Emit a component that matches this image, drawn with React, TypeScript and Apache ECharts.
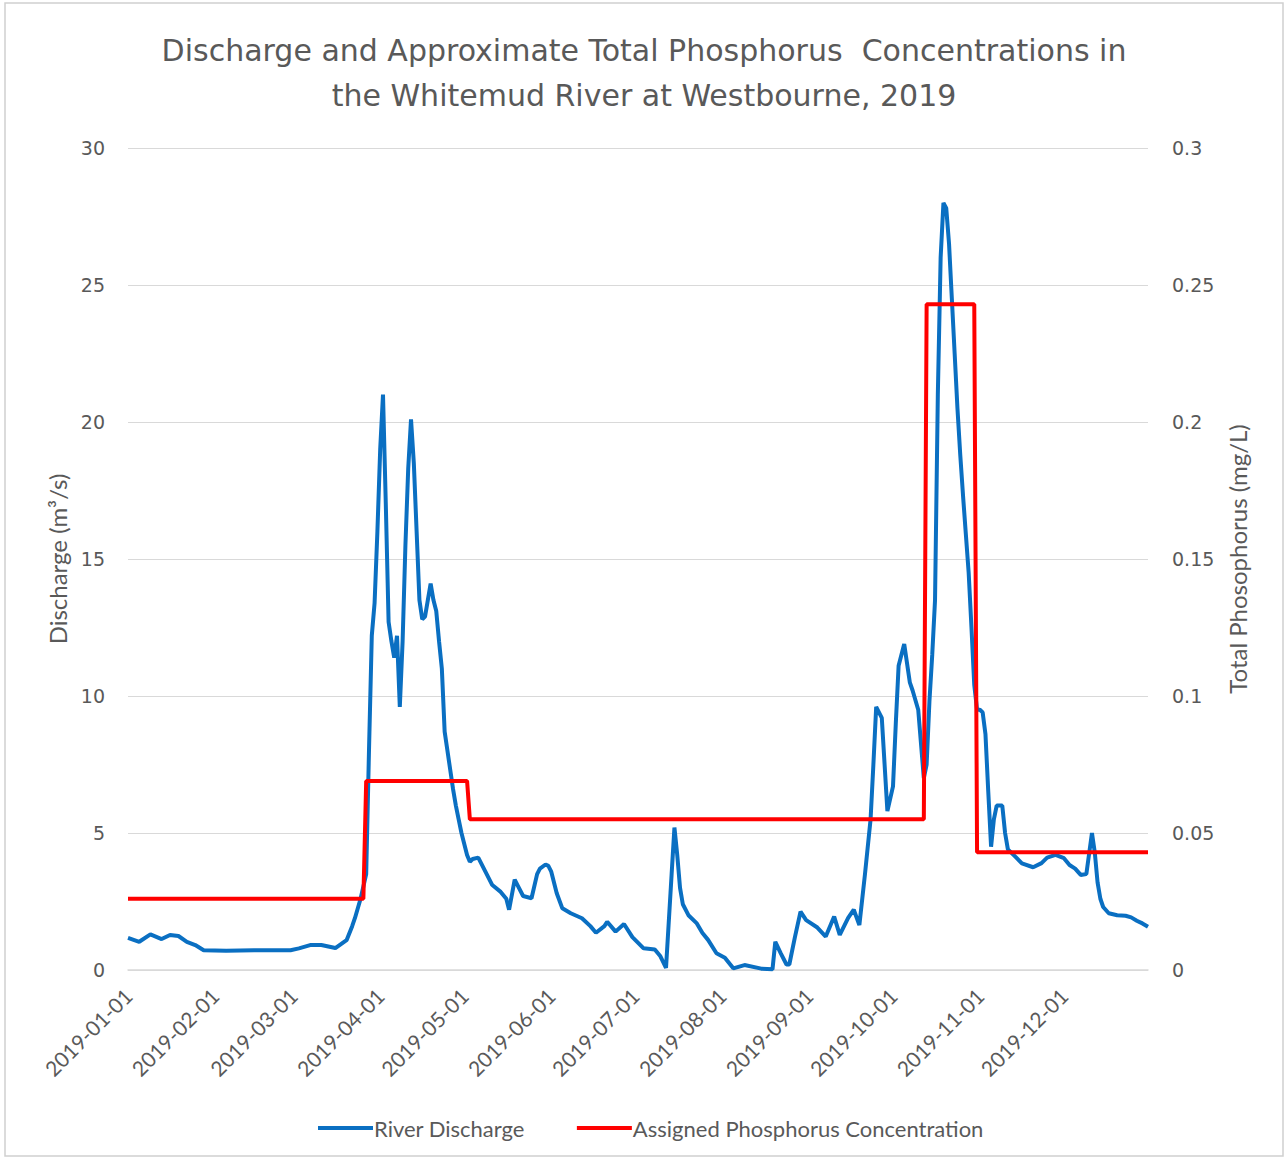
import React, { useEffect, useRef } from "react";
import * as echarts from "echarts";

// ---- Data ----
const titleLines = [
  "Discharge and Approximate Total Phosphorus  Concentrations in",
  "the Whitemud River at Westbourne, 2019",
];
const leftAxisName = "Discharge (m³/s)";
const rightAxisName = "Total Phosophorus (mg/L)";
const seriesNames = ["River Discharge", "Assigned Phosphorus Concentration"];

// day-of-year index (0 = 2019-01-01) and discharge (m³/s)
const dischargeDay = [
  0, 4, 8, 12, 15, 18, 21, 24, 27, 35, 45, 58, 61, 65, 69, 74, 78, 80, 81, 83, 85, 86, 87, 88,
  89, 90, 91, 92, 93, 94, 95, 96, 97, 98, 99, 100, 101, 102, 103, 104, 105, 106, 107, 108, 109,
  110, 111, 112, 113, 114, 115, 116, 117, 118, 119, 120, 121, 122, 123, 125, 128, 130, 133, 135,
  136, 138, 139, 141, 144, 146, 147, 149, 150, 151, 153, 155, 158, 162, 165, 167, 170, 171, 174,
  177, 180, 184, 188, 190, 192, 194, 195, 196, 197, 198, 200, 203, 205, 207, 210, 213, 216, 220,
  226, 230, 231, 233, 235, 236, 238, 240, 242, 246, 249, 252, 254, 257, 259, 261, 263, 265, 266,
  267, 269, 270, 271, 273, 274, 275, 277, 279, 280, 282, 284, 285, 286, 287, 288, 289, 290, 291,
  292, 293, 294, 295, 296, 297, 298, 299, 300, 301, 302, 303, 304, 305, 306, 307, 308, 309, 310,
  312, 313, 314, 317, 319, 323, 326, 328, 331, 334, 336, 338, 340, 342, 344, 345, 346, 347, 348,
  350, 353, 356, 358, 360, 362, 364,
];
const dischargeValue = [
  1.17, 1.03, 1.3, 1.13, 1.28, 1.24, 1.03, 0.91, 0.72, 0.7, 0.72, 0.72, 0.79, 0.91, 0.91, 0.8,
  1.09, 1.6, 1.9, 2.6, 3.5, 8.0, 12.2, 13.4, 16.0, 19.0, 21.0, 17.0, 12.7, 12.0, 11.4, 12.2, 9.6,
  12.0, 15.5, 18.3, 20.1, 18.5, 16.0, 13.5, 12.8, 12.9, 13.5, 14.1, 13.5, 13.1, 12.0, 11.0, 8.7,
  8.0, 7.3, 6.6, 6.0, 5.5, 5.0, 4.6, 4.2, 3.95, 4.05, 4.1, 3.5, 3.1, 2.85, 2.6, 2.2, 3.3, 3.1, 2.7,
  2.62, 3.5, 3.7, 3.85, 3.8, 3.6, 2.8, 2.25, 2.07, 1.89, 1.6, 1.36, 1.6, 1.76, 1.4, 1.68, 1.2,
  0.79, 0.75, 0.5, 0.08, 3.5, 5.2, 4.2, 3.0, 2.4, 2.0, 1.7, 1.35, 1.1, 0.61, 0.45, 0.06, 0.18,
  0.05, 0.03, 1.03, 0.6, 0.2, 0.2, 1.2, 2.13, 1.82, 1.55, 1.22, 1.95, 1.28, 1.9, 2.2, 1.64, 3.5,
  5.5, 7.5, 9.6, 9.2, 7.5, 5.8, 6.7, 9.0, 11.1, 11.9, 10.5, 10.2, 9.5, 7.0, 7.5, 9.8, 11.5, 13.5,
  21.0, 26.0, 28.0, 27.8, 26.5, 24.5, 22.5, 20.5, 18.8, 17.3, 15.9, 14.5, 12.5, 10.4, 9.5, 9.5,
  9.4, 8.6, 6.5, 4.5, 5.5, 6.0, 6.0, 5.0, 4.4, 4.1, 3.89, 3.75, 3.9, 4.1, 4.2, 4.08, 3.83, 3.7,
  3.47, 3.5, 5.0, 4.3, 3.2, 2.6, 2.3, 2.07, 2.0, 1.98, 1.92, 1.8, 1.7, 1.58,
];

// day-of-year index and assigned phosphorus (mg/L)
const phosphorusDay = [0, 84, 85, 121, 122, 284, 285, 302, 303, 364];
const phosphorusValue = [0.026, 0.026, 0.069, 0.069, 0.055, 0.055, 0.243, 0.243, 0.043, 0.043];

const leftMax = 30;
const leftInterval = 5;
const rightMax = 0.3;
const rightInterval = 0.05;

function buildDates(): string[] {
  const out: string[] = [];
  const d = new Date(Date.UTC(2019, 0, 1));
  while (d.getUTCFullYear() === 2019) {
    out.push(d.toISOString().slice(0, 10));
    d.setUTCDate(d.getUTCDate() + 1);
  }
  return out;
}

const TEXT = "#595959";
const GRID = "#d9d9d9";
const BLUE = "#0a6fc2";
const RED = "#ff0000";
const NUM_FONT = "'DejaVu Sans', sans-serif";
const NARROW_FONT = "Lato, 'Noto Sans', sans-serif";

export default function App() {
  const ref = useRef<HTMLDivElement>(null);

  useEffect(() => {
    document.body.style.margin = "0";
    const chart = echarts.init(ref.current!, null, { renderer: "svg" });
    const dates = buildDates();

    const titleStyle = {
      fontFamily: NUM_FONT,
      fontSize: 30,
      fontWeight: "normal",
      color: TEXT,
    };

    chart.setOption({
      animation: false,
      backgroundColor: "#ffffff",
      title: [
        { text: titleLines[0], left: "center", top: 30, textStyle: titleStyle },
        { text: titleLines[1], left: "center", top: 75, textStyle: titleStyle },
      ],
      graphic: [
        {
          type: "rect",
          shape: { x: 5, y: 3, width: 1278, height: 1153 },
          style: { fill: "none", stroke: "#d0d0d0", lineWidth: 1.5 },
          silent: true,
        },
      ],
      legend: {
        top: 1112,
        left: 313,
        itemGap: 52,
        itemWidth: 55,
        itemHeight: 4,
        textStyle: { fontFamily: NARROW_FONT, fontSize: 22, color: TEXT, padding: [0, 0, 0, -4] },
        data: [
          { name: seriesNames[0], icon: "rect" },
          { name: seriesNames[1], icon: "rect" },
        ],
      },
      grid: { left: 128, right: 140, top: 148, bottom: 190 },
      xAxis: {
        type: "category",
        data: dates,
        boundaryGap: false,
        axisLine: { lineStyle: { color: GRID, width: 1.5 } },
        axisTick: { show: false },
        axisLabel: {
          interval: (_i: number, v: string) => v.endsWith("-01"),
          rotate: 45,
          margin: 22,
          fontFamily: NARROW_FONT,
          fontSize: 21,
          color: TEXT,
        },
        splitLine: { show: false },
      },
      yAxis: [
        {
          type: "value",
          min: 0,
          max: leftMax,
          interval: leftInterval,
          name: leftAxisName,
          nameLocation: "middle",
          nameRotate: 90,
          nameGap: 58,
          nameTextStyle: { fontFamily: NARROW_FONT, fontSize: 24, color: TEXT },
          axisLine: { show: false },
          axisTick: { show: false },
          axisLabel: { margin: 23, fontFamily: NUM_FONT, fontSize: 19, color: TEXT },
          splitLine: { lineStyle: { color: GRID, width: 1 } },
        },
        {
          type: "value",
          min: 0,
          max: rightMax,
          interval: rightInterval,
          name: rightAxisName,
          nameLocation: "middle",
          nameRotate: 90,
          nameGap: 77,
          nameTextStyle: { fontFamily: NARROW_FONT, fontSize: 24, color: TEXT },
          axisLine: { show: false },
          axisTick: { show: false },
          axisLabel: {
            margin: 24,
            fontFamily: NUM_FONT,
            fontSize: 19,
            color: TEXT,
            formatter: (v: number) => String(+v.toFixed(2)),
          },
          splitLine: { show: false },
        },
      ],
      series: [
        {
          name: seriesNames[0],
          type: "line",
          yAxisIndex: 0,
          symbol: "none",
          itemStyle: { color: BLUE },
          lineStyle: { color: BLUE, width: 4 },
          data: dischargeDay.map((d, i) => [d, dischargeValue[i]]),
          z: 2,
        },
        {
          name: seriesNames[1],
          type: "line",
          yAxisIndex: 1,
          symbol: "none",
          itemStyle: { color: RED },
          lineStyle: { color: RED, width: 4 },
          data: phosphorusDay.map((d, i) => [d, phosphorusValue[i]]),
          z: 3,
        },
      ],
    });

    return () => chart.dispose();
  }, []);

  return <div ref={ref} style={{ width: 1288, height: 1160 }} />;
}
